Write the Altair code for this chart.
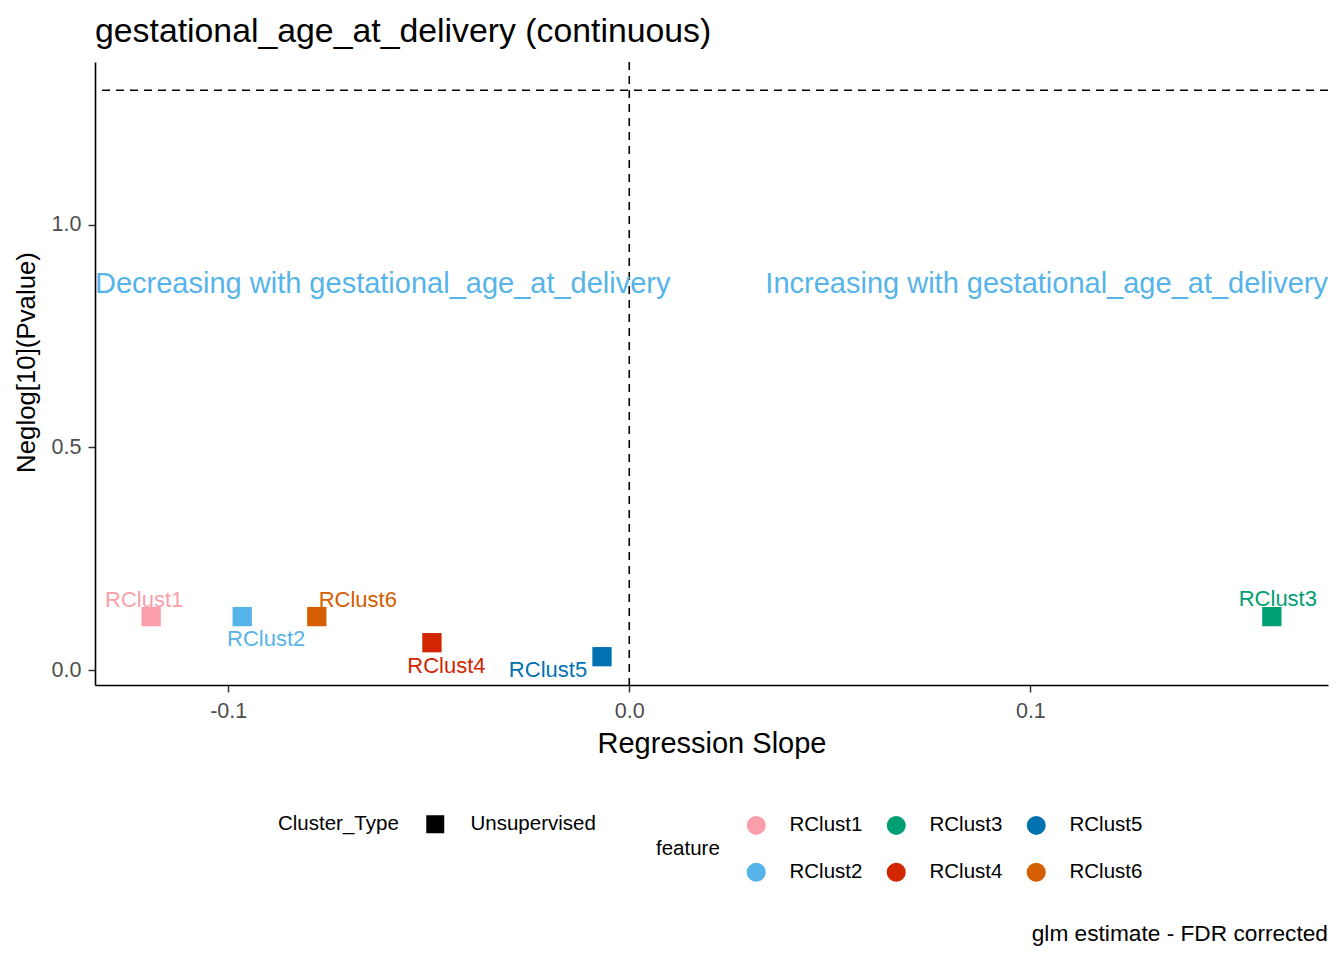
import altair as alt
import pandas as pd

features = ["RClust1", "RClust2", "RClust3", "RClust4", "RClust5", "RClust6"]
slopes = [-0.1192, -0.0965, 0.1602, -0.0492, -0.0068, -0.0779]
neglog_p = [0.1206, 0.1206, 0.1206, 0.0621, 0.0307, 0.1206]
cluster_type = ["Unsupervised"] * 6
palette = ["#FA9FA9", "#56B4E9", "#009E73", "#D12600", "#0072B2", "#D55E00"]
legend_order = ["RClust1", "RClust3", "RClust5", "RClust2", "RClust4", "RClust6"]

x_domain = [-0.1332, 0.1742]
y_domain = [-0.0328, 1.3645]
x_ticks = [-0.1, 0.0, 0.1]
y_ticks = [0.0, 0.5, 1.0]
p_threshold = [1.30103]
slope_zero = [0.0]

title_text = "gestational_age_at_delivery (continuous)"
left_note = "Decreasing with gestational_age_at_delivery"
right_note = "Increasing with gestational_age_at_delivery"
note_y = [0.8475]
caption = "glm estimate - FDR corrected"

FONT = "Liberation Sans"
W, H = 1233, 623

df = pd.DataFrame({"feature": features, "slope": slopes,
                   "neglog": neglog_p, "Cluster_Type": cluster_type})

xscale = alt.Scale(domain=x_domain, nice=False, zero=False)
yscale = alt.Scale(domain=y_domain, nice=False, zero=False)
cscale = alt.Scale(domain=features, range=palette)

lbl_expr = "datum.value < 0 ? '-' + format(-datum.value, '.1f') : format(datum.value, '.1f')"

xaxis = alt.Axis(values=x_ticks, labelExpr=lbl_expr, grid=False,
                 labelFontSize=21.5, labelColor="#4D4D4D", labelFont=FONT,
                 tickSize=7, tickWidth=1.5, tickColor="#333333",
                 domainColor="black", domainWidth=1.6, labelPadding=8,
                 title="Regression Slope", titleFont=FONT, titleFontSize=29,
                 titleFontWeight="normal", titleColor="black",
                 titleY=67.7, titleBaseline="alphabetic")
yaxis = alt.Axis(values=y_ticks, labelExpr=lbl_expr, grid=False,
                 labelFontSize=21.5, labelColor="#4D4D4D", labelFont=FONT,
                 tickSize=7, tickWidth=1.5, tickColor="#333333",
                 domainColor="black", domainWidth=1.6, labelPadding=7,
                 title="Neglog[10](Pvalue)", titleFont=FONT, titleFontSize=25.8,
                 titleFontWeight="normal", titleColor="black",
                 titleX=-69, titleY=300, titleAngle=270, titleBaseline="middle")

color_legend = alt.Legend(orient="none", legendX=561, legendY=753,
                          direction="horizontal", columns=3,
                          values=legend_order,
                          titleOrient="left", titleAnchor="middle",
                          titleBaseline="middle", titlePadding=26,
                          symbolType="circle", symbolSize=361,
                          symbolStrokeWidth=0, labelOffset=23,
                          columnPadding=23, rowPadding=26, padding=0,
                          labelFontSize=20.5, titleFontSize=20.5,
                          labelFont=FONT, titleFont=FONT,
                          titleFontWeight="normal", titleColor="black",
                          labelColor="black", title="feature")
shape_legend = alt.Legend(orient="none", legendX=183, legendY=752,
                          direction="horizontal",
                          titleOrient="left", titleAnchor="middle",
                          titleBaseline="middle", titlePadding=26,
                          symbolSize=324, symbolFillColor="black",
                          symbolStrokeWidth=0, labelOffset=25, padding=0,
                          labelFontSize=20.5, titleFontSize=20.5,
                          labelFont=FONT, titleFont=FONT,
                          titleFontWeight="normal", titleColor="black",
                          labelColor="black", title="Cluster_Type")

base = alt.Chart(df)

hline = alt.Chart(pd.DataFrame({"y": p_threshold})).mark_rule(
    color="black", strokeDash=[8, 6], strokeWidth=1.6
).encode(y=alt.Y("y:Q", scale=yscale, axis=yaxis))

vline = alt.Chart(pd.DataFrame({"x": slope_zero})).mark_rule(
    color="black", strokeDash=[8, 6], strokeWidth=1.6
).encode(x=alt.X("x:Q", scale=xscale, axis=xaxis))

points = base.mark_point(filled=True, opacity=1, size=372).encode(
    x=alt.X("slope:Q", scale=xscale, axis=xaxis),
    y=alt.Y("neglog:Q", scale=yscale, axis=yaxis),
    color=alt.Color("feature:N", scale=cscale, legend=color_legend),
    shape=alt.Shape("Cluster_Type:N",
                    scale=alt.Scale(domain=["Unsupervised"], range=["square"]),
                    legend=shape_legend),
)

label_offsets = {
    "RClust1": (-7, -10),
    "RClust2": (24, 29),
    "RClust3": (6, -11),
    "RClust4": (14.5, 30.4),
    "RClust5": (-54, 20.4),
    "RClust6": (41, -10),
}
labels = []
for f in features:
    dx, dy = label_offsets[f]
    labels.append(
        base.transform_filter(alt.datum.feature == f).mark_text(
            font=FONT, fontSize=22, dx=dx, dy=dy, baseline="alphabetic",
            align="center"
        ).encode(
            x=alt.X("slope:Q", scale=xscale),
            y=alt.Y("neglog:Q", scale=yscale),
            text="feature:N",
            color=alt.Color("feature:N", scale=cscale, legend=color_legend),
        )
    )

notes_left = alt.Chart(pd.DataFrame({"x": [x_domain[0]], "y": note_y, "t": [left_note]})).mark_text(
    font=FONT, fontSize=29, color="#56B4E9", align="left", baseline="alphabetic"
).encode(x=alt.X("x:Q", scale=xscale), y=alt.Y("y:Q", scale=yscale), text="t:N")

notes_right = alt.Chart(pd.DataFrame({"x": [x_domain[1]], "y": note_y, "t": [right_note]})).mark_text(
    font=FONT, fontSize=29, color="#56B4E9", align="right", baseline="alphabetic"
).encode(x=alt.X("x:Q", scale=xscale), y=alt.Y("y:Q", scale=yscale), text="t:N")

title_mark = alt.Chart(pd.DataFrame({"t": [title_text]})).mark_text(
    font=FONT, fontSize=33.8, color="black", align="left", baseline="alphabetic"
).encode(x=alt.value(0), y=alt.value(-20.3), text="t:N")

cap = alt.Chart(pd.DataFrame({"t": [caption]})).mark_text(
    font=FONT, fontSize=22.7, color="black", align="right", baseline="alphabetic"
).encode(x=alt.value(W), y=alt.value(879), text="t:N")

chart = alt.layer(hline, vline, points, *labels, notes_left, notes_right,
                  title_mark, cap).properties(
    width=W, height=H,
    background="white",
    autosize=alt.AutoSizeParams(type="none"),
    padding={"left": 87, "top": 54, "right": 8, "bottom": 267},
).configure_view(strokeWidth=0)

chart.save("out.html", embed_options={"renderer": "svg", "actions": False})
